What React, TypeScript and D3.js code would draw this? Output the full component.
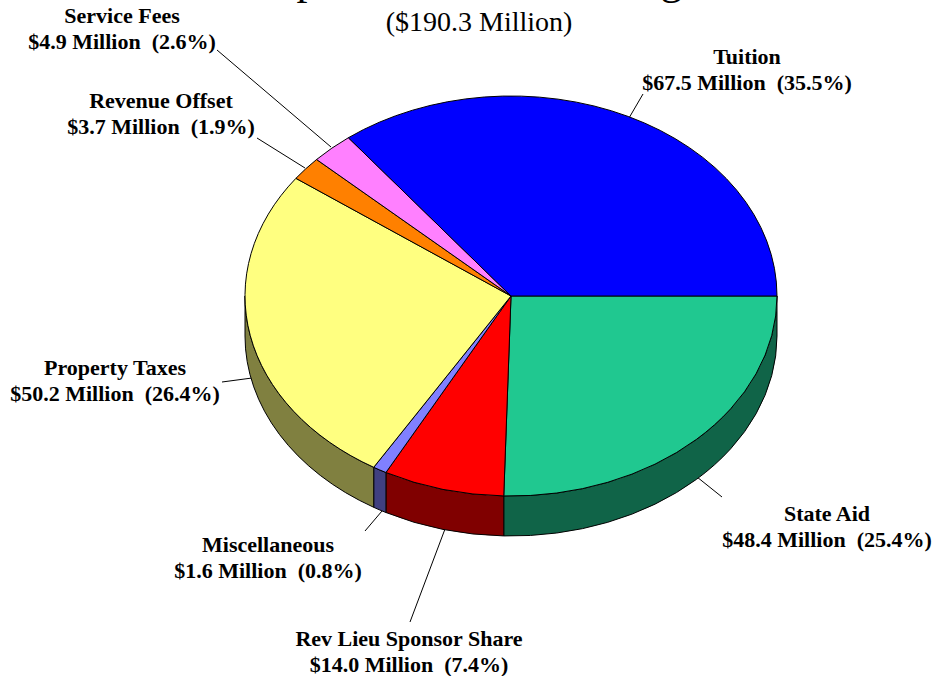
import React from 'react';
import * as d3 from 'd3';

const categories = ['State Aid', 'Rev Lieu Sponsor Share', 'Miscellaneous', 'Property Taxes', 'Revenue Offset', 'Service Fees', 'Tuition'];
const values = [48.4, 14.0, 1.6, 50.2, 3.7, 4.9, 67.5];
const percents = ['25.4', '7.4', '0.8', '26.4', '1.9', '2.6', '35.5'];
const topColors = ['#20c890', '#ff0000', '#8080ff', '#ffff80', '#ff8000', '#ff80ff', '#0000ff'];
const sideColors = ['#106448', '#800000', '#404080', '#808040', '#804000', '#804080', '#000080'];
// label centre x, first baseline y, leader line [x1, y1, x2, y2]
const labelX = [827, 409, 268, 115, 161, 122, 747];
const labelY = [521, 646, 552, 375, 108, 23, 64];
const leaders = [
  [697, 477, 722, 497],
  [445, 529, 410, 622],
  [382, 511, 365, 531],
  [252, 378, 222, 382],
  [305, 168, 257, 138],
  [331, 147, 217, 50],
  [629, 118, 643, 94],
];

const width = 933;
const height = 676;
const cx = 511;
const cy = 296;
const rx = 266;
const ry = 200;
const depth = 40;

const pie = d3.pie<number>().sort(null).startAngle(Math.PI / 2).endAngle(Math.PI * 2.5);
const arcs = pie(values);
const arc = d3.arc<d3.PieArcDatum<number>>().innerRadius(0).outerRadius(rx);

// d3 angle is from north, clockwise. Wall only shows on the front half.
const pt = (a: number, dy = 0) => [rx * Math.sin(a), -ry * Math.cos(a) + dy];
const wall = (a0: number, a1: number) => {
  const s = Math.max(a0, Math.PI / 2);
  const e = Math.min(a1, (Math.PI * 3) / 2);
  if (e <= s) return null;
  const [x0, y0] = pt(s);
  const [x1, y1] = pt(e);
  return `M${x0},${y0}A${rx},${ry} 0 0 1 ${x1},${y1}L${x1},${y1 + depth}A${rx},${ry} 0 0 0 ${x0},${y0 + depth}Z`;
};

const serif = '"Liberation Serif", serif';

export default function App() {
  return (
    <svg width={width} height={height} style={{ position: 'absolute', left: 0, top: 0, background: '#fff' }} fontFamily={serif}>
      <text x={481} y={-6} textAnchor="middle" fontSize={44}>Expected Revenue Budget</text>
      <text x={479} y={31} textAnchor="middle" fontSize={28}>($190.3 Million)</text>
      <g stroke="#000" strokeWidth={1}>
        {leaders.map((d, i) => (
          <line key={i} x1={d[0]} y1={d[1]} x2={d[2]} y2={d[3]} />
        ))}
      </g>
      <g transform={`translate(${cx},${cy})`} stroke="#000" strokeWidth={1} strokeLinejoin="round">
        {arcs.map((d, i) => {
          const p = wall(d.startAngle, d.endAngle);
          return p ? <path key={i} d={p} fill={sideColors[i]} /> : null;
        })}
        <g transform={`scale(1,${ry / rx})`}>
          {arcs.map((d, i) => (
            <path key={i} d={arc(d)!} fill={topColors[i]} vectorEffect="non-scaling-stroke" />
          ))}
        </g>
      </g>
      <g fontSize={22} fontWeight="bold" textAnchor="middle">
        {categories.map((c, i) => (
          <text key={c} x={labelX[i]} y={labelY[i]}>
            <tspan x={labelX[i]}>{c}</tspan>
            <tspan x={labelX[i]} dy={26}>{`$${values[i].toFixed(1)} Million\u00a0 (${percents[i]}%)`}</tspan>
          </text>
        ))}
      </g>
    </svg>
  );
}
